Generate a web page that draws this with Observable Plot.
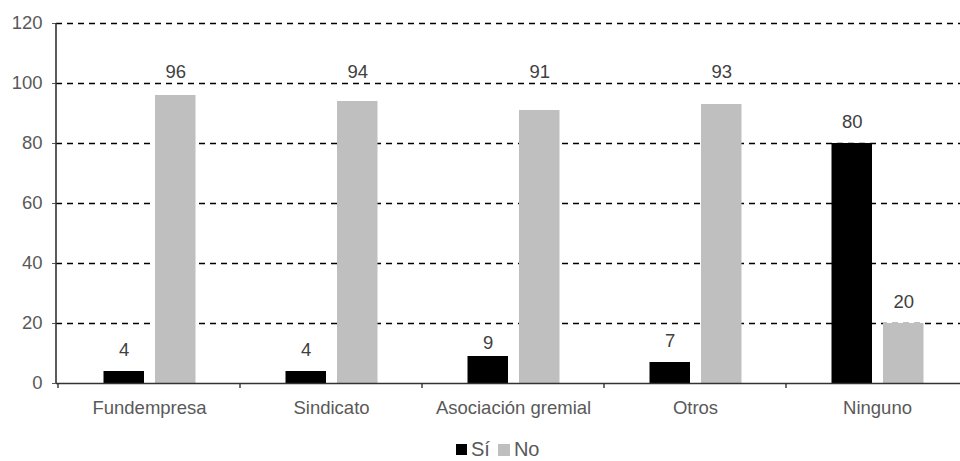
<!DOCTYPE html>
<html>
<head>
<meta charset="utf-8">
<script src="https://cdn.jsdelivr.net/npm/d3@7"></script>
<script src="https://cdn.jsdelivr.net/npm/@observablehq/plot@0.6"></script>
<style>
  html, body { margin: 0; padding: 0; background: white; overflow: hidden; }
  #chart svg { display: block; }
  .legend { display: flex; align-items: center; height: 23px; margin-left: 456px;
            font-family: "Liberation Sans", Arial, sans-serif; font-size: 20px; color: #595959; }
  .legend .sw { display: inline-block; width: 11px; height: 11px; margin-right: 4px; }
  .legend .item { display: flex; align-items: center; margin-right: 8px; }
</style>
</head>
<body>
<div id="chart"></div>
<div class="legend">
  <span class="item"><span class="sw" style="background:#000"></span>Sí</span>
  <span class="item"><span class="sw" style="background:#bfbfbf;width:12px;height:12px"></span>No</span>
</div>
<script>
const categories = ["Fundempresa", "Sindicato", "Asociación gremial", "Otros", "Ninguno"];
const seriesNames = ["Sí", "No"];
const siValues = [4, 4, 9, 7, 80];
const noValues = [96, 94, 91, 93, 20];
// where each value label sits (in value units), as placed in the reference
const siLabelAt = [11, 11, 13.6, 14, 87.2];
const noLabelAt = [103.8, 103.8, 103.8, 103.8, 27.1];
const yTicks = [0, 20, 40, 60, 80, 100, 120];

const rowsSi = categories.map((c, i) => ({category: c, series: seriesNames[0], value: siValues[i], labelAt: siLabelAt[i]}));
const rowsNo = categories.map((c, i) => ({category: c, series: seriesNames[1], value: noValues[i], labelAt: noLabelAt[i]}));

const W = 960, H = 438, ML = 56, MT = 23, MB = 55;

const chart = Plot.plot({
  width: W,
  height: H,
  marginLeft: ML,
  marginRight: 0,
  marginTop: MT,
  marginBottom: MB,
  style: {fontFamily: "'Liberation Sans', Arial, sans-serif", fontSize: "18.5px", color: "#595959", background: "white"},
  x: {domain: categories, range: [57, 969.5], padding: 0, tickSize: 0, tickPadding: 17, label: null},
  y: {domain: [0, 120], ticks: yTicks, tickSize: 4, tickPadding: 10, label: null, tickFormat: d => d},
  marks: [
    Plot.ruleY(yTicks.filter(d => d > 0), {stroke: "black", strokeWidth: 1.4, strokeDasharray: "6,5"}),
    Plot.barY(rowsSi, {x: "category", y: "value", fill: "#000000", insetLeft: 45.5, insetRight: 96}),
    Plot.barY(rowsNo, {x: "category", y: "value", fill: "#bfbfbf", insetLeft: 97, insetRight: 44.5}),
    Plot.text(rowsSi, {x: "category", y: "labelAt", text: d => String(d.value), dx: -25.25, fill: "#404040", fontSize: 18.5}),
    Plot.text(rowsNo, {x: "category", y: "labelAt", text: d => String(d.value), dx: 26.25, fill: "#404040", fontSize: 18.5}),
    Plot.ruleY([0], {stroke: "#333333", strokeWidth: 1.6})
  ]
});

// axis line and category boundary ticks from the library's scales
const xs = chart.scale("x");
const ys = chart.scale("y");
const svg = d3.select(chart);
const y0 = ys.apply(0), yTop = ys.apply(120);
svg.append("line")
  .attr("x1", ML).attr("x2", ML).attr("y1", yTop).attr("y2", y0)
  .attr("stroke", "#333333").attr("stroke-width", 1.6);
const bounds = categories.map(c => xs.apply(c));
bounds.push(xs.apply(categories[categories.length - 1]) + xs.bandwidth);
svg.append("g").selectAll("line").data(bounds).join("line")
  .attr("x1", d => d).attr("x2", d => d)
  .attr("y1", y0).attr("y2", y0 + 5)
  .attr("stroke", "#333333").attr("stroke-width", 1.4);

document.getElementById("chart").appendChild(chart);
</script>
</body>
</html>
